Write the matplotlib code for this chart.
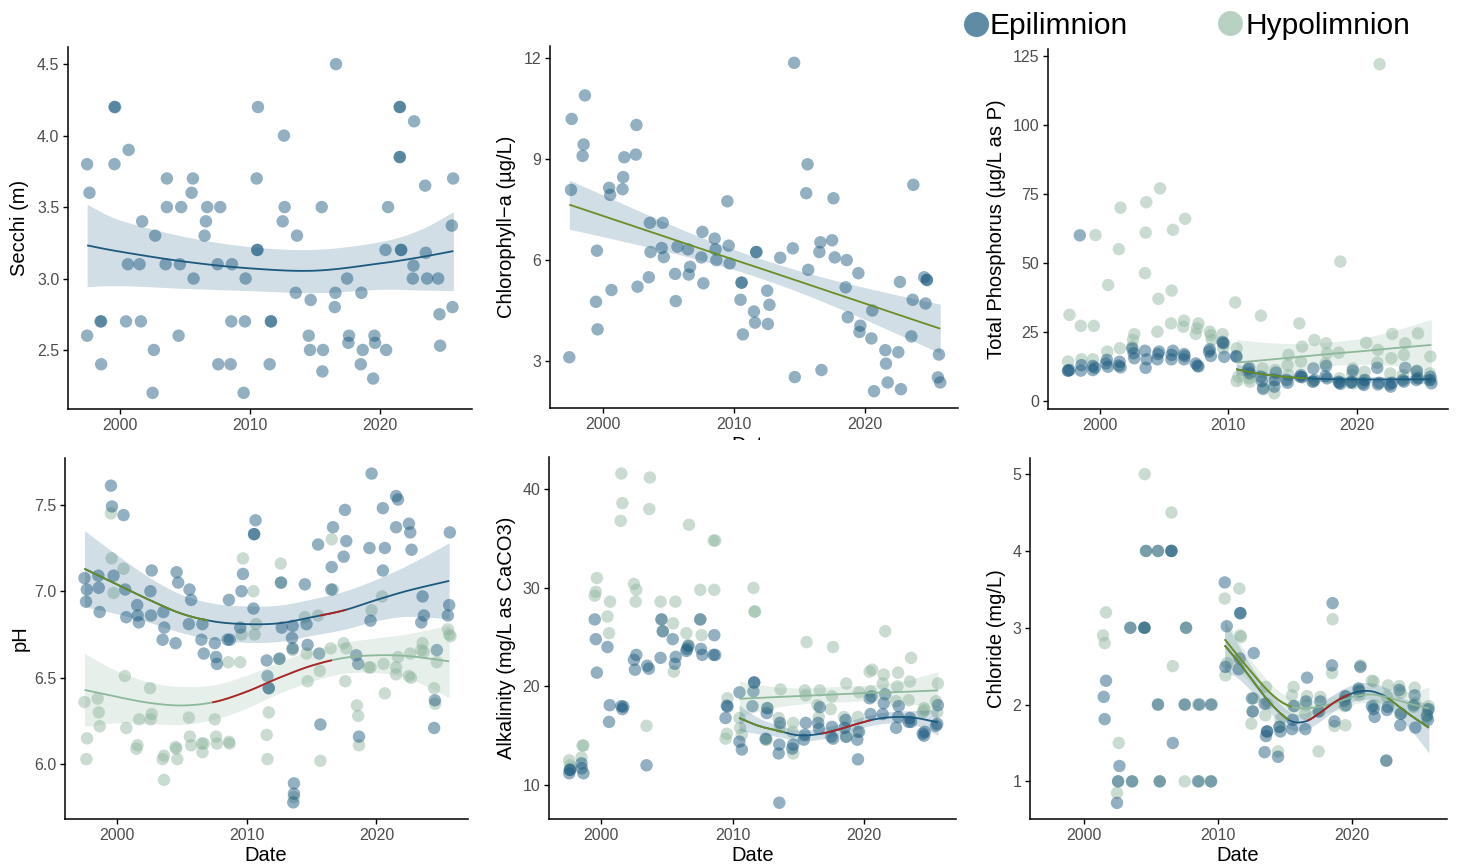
import numpy as np
import matplotlib
matplotlib.use("Agg")
import matplotlib.pyplot as plt
from matplotlib.transforms import Bbox

plt.rcParams['font.family'] = ['Liberation Sans', 'DejaVu Sans']

# ---------------- data (year, value) ----------------
secchi_epi = [(1997.47,3.80),(1997.65,3.60),(1997.47,2.60),(1998.5,2.70),(1998.55,2.70),(1998.55,2.40),
    (1999.57,4.20),(1999.62,4.20),(1999.57,3.80),(2000.66,3.90),(2000.6,3.10),(2000.46,2.70),(2001.7,3.40),
    (2001.5,3.10),(2001.6,2.70),(2002.7,3.30),(2002.6,2.50),(2002.5,2.20),(2003.6,3.70),(2003.6,3.50),
    (2003.5,3.10),(2004.7,3.50),(2004.6,3.10),(2004.5,2.60),(2005.6,3.70),(2005.5,3.60),(2005.65,3.00),
    (2006.7,3.50),(2006.6,3.40),(2006.5,3.30),(2007.7,3.50),(2007.5,3.10),(2007.55,2.40),(2008.6,3.10),
    (2008.55,2.70),(2008.5,2.40),(2009.65,3.00),(2009.6,2.70),(2009.5,2.20),(2010.6,4.20),(2010.5,3.70),
    (2010.55,3.20),(2010.55,3.20),(2011.5,2.40),(2011.6,2.70),(2011.6,2.70),(2012.6,4.00),(2012.65,3.50),
    (2012.5,3.40),(2013.6,3.30),(2013.5,2.90),(2014.65,2.85),(2014.5,2.60),(2014.6,2.50),(2015.5,3.50),
    (2015.6,2.50),(2015.55,2.35),(2016.6,4.50),(2016.55,2.90),(2016.5,2.80),(2017.45,3.00),(2017.6,2.60),
    (2017.55,2.55),(2018.55,2.90),(2018.65,2.50),(2018.5,2.40),(2019.55,2.60),(2019.6,2.55),(2019.45,2.30),
    (2020.6,3.50),(2020.4,3.20),(2020.45,2.50),(2021.5,4.20),(2021.5,4.20),(2021.5,3.85),(2021.5,3.85),
    (2021.6,3.20),(2021.6,3.20),(2022.6,4.10),(2022.55,3.09),(2022.5,3.00),(2023.45,3.65),(2023.5,3.18),
    (2023.6,3.00),(2024.45,3.00),(2024.55,2.75),(2024.6,2.53),(2025.6,3.70),(2025.5,3.37),(2025.55,2.80)]

chl_epi = [(1997.47,3.11),(1997.6,8.09),(1997.65,10.2),(1998.66,10.9),(1998.56,9.44),(1998.48,9.10),
    (1999.57,6.28),(1999.5,4.76),(1999.62,3.94),(2000.5,8.15),(2000.58,7.94),(2000.68,5.11),(2001.65,9.06),
    (2001.57,8.47),(2001.52,8.11),(2002.58,10.02),(2002.53,9.14),(2002.66,5.21),(2003.6,7.11),(2003.65,6.24),
    (2003.52,5.49),(2004.58,7.11),(2004.5,6.36),(2004.66,6.09),(2005.7,6.40),(2005.52,5.59),(2005.57,4.78),
    (2006.5,6.32),(2006.66,5.80),(2006.56,5.57),(2007.6,6.84),(2007.52,6.08),(2007.67,5.31),(2008.53,6.64),
    (2008.6,6.32),(2008.66,6.0),(2009.5,7.75),(2009.6,6.43),(2009.67,5.90),(2010.58,5.33),(2010.58,5.33),
    (2010.5,4.82),(2010.68,3.79),(2011.7,6.24),(2011.7,6.24),(2011.52,4.47),(2011.6,4.14),(2012.53,5.09),
    (2012.7,4.67),(2012.58,4.10),(2013.52,6.07),(2014.58,11.87),(2014.48,6.35),(2014.63,2.52),(2015.6,8.85),
    (2015.5,7.99),(2015.65,5.71),(2016.58,6.53),(2016.5,6.24),(2016.66,2.73),(2017.57,7.84),(2017.47,6.59),
    (2017.67,6.08),(2018.58,6.0),(2018.5,5.19),(2018.66,4.30),(2019.47,5.61),(2019.62,4.05),(2019.55,3.86),
    (2020.53,4.50),(2020.46,3.67),(2020.66,2.10),(2021.52,3.32),(2021.57,2.92),(2021.7,2.36),(2022.63,5.35),
    (2022.51,3.26),(2022.71,2.16),(2023.65,8.24),(2023.6,4.82),(2023.5,3.73),(2024.48,5.49),(2024.68,5.41),
    (2024.68,5.41),(2024.58,4.71),(2025.6,3.19),(2025.52,2.51),(2025.7,2.36)]

tp_epi = [(1997.67,11.2),(1997.56,11.0),(1997.56,11.0),(1998.47,60.0),(1998.6,13.0),(1998.55,11.0),
    (1999.48,12.7),(1999.64,12.0),(1999.48,11.2),(2000.57,14.9),(2000.65,12.4),(2000.5,13.6),(2001.56,14.2),
    (2001.63,12.2),(2001.5,12.8),(2002.54,19.0),(2002.65,17.3),(2002.7,15.5),(2003.53,18.2),(2003.66,15.1),
    (2003.58,12.0),(2004.62,17.9),(2004.54,17.0),(2004.49,15.1),(2005.7,18.2),(2005.6,16.7),(2005.58,15.1),
    (2006.56,17.0),(2006.6,16.3),(2006.56,15.1),(2007.47,13.6),(2007.6,12.8),(2007.68,12.5),(2008.56,18.7),
    (2008.64,16.3),(2008.5,17.9),(2009.55,21.4),(2009.68,16.0),(2009.6,20.9),(2010.6,16.3),(2010.64,16.0),
    (2011.62,12.0),(2011.54,11.5),(2011.67,10.0),(2012.53,8.8),(2012.6,7.2),(2012.7,4.6),(2013.7,10.3),
    (2013.57,5.2),(2013.62,7.6),(2014.6,6.6),(2014.53,7.6),(2015.64,9.4),(2015.59,8.8),(2015.72,8.6),
    (2016.6,11.8),(2016.68,7.6),(2016.55,7.0),(2017.59,12.7),(2017.54,9.0),(2017.66,8.2),(2018.62,6.6),
    (2018.7,6.2),(2018.57,7.0),(2019.58,7.0),(2019.66,11.0),(2019.53,6.6),(2020.52,5.8),(2020.6,7.6),
    (2020.44,6.4),(2021.56,12.0),(2021.61,6.0),(2021.69,6.6),(2022.6,5.2),(2022.7,6.6),(2022.52,6.0),
    (2023.55,7.6),(2023.73,12.0),(2023.63,7.0),(2024.64,10.9),(2024.72,8.2),(2024.6,7.6),(2025.68,8.8),
    (2025.76,6.4),(2025.63,7.6)]

tp_hypo = [(1997.67,31.2),(1997.56,14.3),(1998.55,27.2),(1998.6,15.1),(1999.69,60.1),(1999.56,27.2),
    (1999.48,15.1),(2000.67,42.0),(2000.6,17.9),(2001.5,55.0),(2001.63,70.0),(2001.58,19.1),(2002.7,24.2),
    (2002.6,22.1),(2002.54,19.7),(2003.63,72.0),(2003.58,61.0),(2003.53,46.3),(2004.7,77.0),(2004.57,37.0),
    (2004.49,25.1),(2005.7,62.0),(2005.6,40.0),(2005.55,28.1),(2006.64,66.0),(2006.56,29.1),(2006.5,26.9),
    (2007.68,28.1),(2007.57,26.3),(2007.47,24.3),(2008.56,25.1),(2008.64,23.9),(2008.72,22.1),(2009.55,24.2),
    (2009.68,20.9),(2009.6,19.1),(2010.53,35.7),(2010.64,19.1),(2010.64,7.2),(2010.77,8.8),(2011.54,10.3),
    (2011.62,8.2),(2011.67,7.0),(2012.53,30.9),(2012.66,11.8),(2012.7,4.2),(2013.57,2.8),(2013.64,11.2),
    (2013.51,7.2),(2015.51,28.1),(2014.66,16.7),(2014.6,13.0),(2014.68,9.4),(2015.72,19.7),(2015.64,14.3),
    (2016.68,22.1),(2016.6,7.0),(2017.59,20.9),(2017.66,17.3),(2017.54,13.6),(2018.7,50.5),(2018.57,17.5),
    (2018.62,8.2),(2019.66,11.8),(2019.61,9.4),(2019.71,6.4),(2020.7,21.1),(2020.57,10.6),(2020.49,7.6),
    (2021.74,122.0),(2021.61,18.5),(2021.56,13.9),(2022.72,24.3),(2022.65,15.5),(2022.57,10.0),
    (2023.73,20.9),(2023.63,16.7),(2023.55,9.4),(2024.72,24.5),(2024.6,10.6),(2024.64,9.0),(2025.68,16.1),
    (2025.63,10.0),(2025.76,7.6)]

ph_epi = [(1997.5,7.076),(1997.68,7.01),(1997.62,6.94),(1998.57,7.09),(1998.6,7.02),(1998.67,6.88),
    (1999.54,7.61),(1999.62,7.49),(1999.74,7.09),(2000.51,7.44),(2000.64,7.01),(2000.72,6.85),(2001.56,6.92),
    (2001.6,6.86),(2001.69,6.82),(2002.68,7.12),(2002.58,7.0),(2002.63,6.86),(2003.58,6.88),(2003.65,6.79),
    (2003.52,6.72),(2004.6,7.11),(2004.72,7.05),(2004.52,6.70),(2005.59,7.01),(2005.72,6.95),(2005.54,6.81),
    (2006.59,6.81),(2006.51,6.72),(2006.69,6.64),(2007.54,6.70),(2007.64,6.62),(2007.71,6.58),(2008.63,6.95),
    (2008.53,6.72),(2008.7,6.72),(2009.71,7.10),(2009.6,7.0),(2009.5,6.79),(2010.68,7.41),(2010.57,7.33),
    (2010.57,7.33),(2010.52,6.90),(2011.54,6.60),(2011.6,6.51),(2011.7,6.44),(2011.7,6.44),(2012.64,7.05),
    (2012.7,6.79),(2012.52,6.61),(2013.54,6.80),(2013.49,6.73),(2013.54,6.67),(2013.64,5.89),(2013.64,5.83),
    (2013.59,5.78),(2014.48,7.04),(2014.61,6.81),(2014.69,6.69),(2015.5,7.27),(2015.58,6.64),(2015.68,6.23),
    (2016.65,7.37),(2016.55,7.14),(2016.52,7.01),(2017.57,7.47),(2017.67,7.29),(2017.47,7.20),(2018.44,6.63),
    (2018.59,6.58),(2018.65,6.16),(2019.62,7.68),(2019.46,7.25),(2019.54,6.83),(2020.49,7.48),(2020.64,7.25),
    (2020.49,7.12),(2021.51,7.55),(2021.66,7.53),(2021.51,7.37),(2022.5,7.39),(2022.6,7.34),(2022.7,7.24),
    (2023.55,6.97),(2023.65,6.86),(2023.45,6.82),(2024.65,6.66),(2024.5,6.37),(2024.44,6.21),(2025.65,7.34),
    (2025.6,6.92),(2025.5,6.86)]

ph_hypo = [(1997.5,6.36),(1997.7,6.15),(1997.65,6.03),(1998.52,6.38),(1998.6,6.30),(1998.67,6.22),
    (1999.54,7.45),(1999.59,7.19),(1999.74,6.99),(2000.51,7.13),(2000.61,6.51),(2000.72,6.21),(2001.71,6.26),
    (2001.58,6.11),(2001.5,6.09),(2002.55,6.44),(2002.68,6.29),(2002.6,6.26),(2003.63,6.05),(2003.52,6.03),
    (2003.63,5.91),(2004.57,6.09),(2004.65,6.03),(2004.52,6.10),(2005.54,6.27),(2005.62,6.16),(2005.72,6.11),
    (2006.54,6.12),(2006.59,6.07),(2006.69,6.12),(2007.54,6.26),(2007.64,6.16),(2007.71,6.12),(2008.58,6.59),
    (2008.63,6.13),(2008.68,6.12),(2009.71,7.19),(2009.6,6.75),(2009.5,6.59),(2010.52,7.0),(2010.72,6.81),
    (2010.61,6.75),(2012.62,7.16),(2011.7,6.30),(2011.54,6.17),(2011.6,6.03),(2012.64,7.05),(2012.52,6.61),
    (2013.54,6.66),(2013.64,5.81),(2014.48,6.85),(2014.61,6.64),(2014.69,6.48),(2015.5,6.86),(2015.63,6.54),
    (2015.68,6.02),(2016.55,7.30),(2016.65,7.01),(2016.47,6.67),(2017.47,6.70),(2017.67,6.67),(2017.6,6.48),
    (2018.49,6.34),(2018.59,6.28),(2018.65,6.11),(2019.62,6.89),(2019.41,6.56),(2019.54,6.56),(2020.43,6.97),
    (2020.54,6.58),(2020.64,6.41),(2021.51,6.56),(2021.66,6.62),(2021.51,6.52),(2022.6,6.64),(2022.5,6.51),
    (2022.66,6.50),(2023.55,6.70),(2023.45,6.66),(2023.63,6.65),(2024.44,6.44),(2024.52,6.35),(2024.65,6.59),
    (2025.5,6.78),(2025.6,6.75),(2025.7,6.74)]

alk_epi = [(1997.54,11.19),(1997.6,11.53),(1997.6,11.53),(1998.48,12.2),(1998.63,11.19),(1998.5,11.7),
    (1999.49,26.8),(1999.57,24.8),(1999.65,21.4),(2000.46,24.0),(2000.63,18.1),(2000.58,16.4),(2001.52,18.0),
    (2001.6,17.7),(2001.67,17.95),(2002.48,22.7),(2002.66,23.2),(2002.56,21.7),(2003.49,22.1),(2003.62,21.8),
    (2003.44,12.0),(2004.51,22.9),(2004.58,26.8),(2004.68,25.6),(2005.44,24.8),(2005.67,23.0),(2005.6,22.3),
    (2006.53,23.8),(2006.63,24.1),(2006.48,23.6),(2007.54,26.8),(2007.59,23.8),(2007.7,23.2),(2008.61,25.2),
    (2008.56,23.2),(2008.68,23.2),(2009.57,18.05),(2009.62,17.95),(2009.47,16.8),(2010.53,19.4),(2010.53,14.4),
    (2010.71,13.6),(2011.65,20.4),(2011.65,20.4),(2011.6,19.5),(2011.52,18.0),(2012.66,17.8),(2012.61,17.3),
    (2012.53,14.7),(2013.57,14.1),(2013.52,13.2),(2013.57,8.2),(2013.62,16.3),(2014.63,14.1),(2014.56,13.7),
    (2015.59,16.3),(2015.52,15.1),(2015.44,14.6),(2016.53,16.3),(2016.66,17.9),(2016.6,15.7),(2017.59,15.9),
    (2017.54,14.9),(2017.67,14.7),(2018.63,16.6),(2018.56,15.8),(2018.68,14.9),(2019.57,12.6),(2019.52,14.6),
    (2019.65,15.4),(2020.46,18.8),(2020.53,17.2),(2020.61,19.0),(2021.65,19.2),(2021.54,18.3),(2021.46,17.2),
    (2022.48,15.8),(2022.63,16.9),(2022.68,18.0),(2023.54,16.8),(2023.62,16.4),(2023.44,16.4),(2024.51,15.2),
    (2024.61,15.0),(2024.66,15.4),(2025.52,16.0),(2025.62,16.2),(2025.67,18.1)]

alk_hypo = [(1997.54,12.5),(1997.6,12.0),(1997.67,11.7),(1998.56,14.0),(1998.48,12.8),(1998.63,14.0),
    (1999.65,31.0),(1999.57,29.6),(1999.49,29.2),(2000.46,27.1),(2000.66,28.6),(2000.58,25.4),(2001.52,41.6),
    (2001.6,38.6),(2001.47,36.8),(2002.48,30.4),(2002.66,29.8),(2002.61,28.6),(2003.7,41.2),(2003.65,38.0),
    (2003.44,16.0),(2004.51,28.6),(2004.58,26.8),(2004.68,25.6),(2005.64,28.6),(2005.47,26.4),(2005.52,21.5),
    (2006.48,25.4),(2006.63,24.2),(2006.68,36.4),(2007.54,29.8),(2007.64,25.2),(2007.54,26.8),(2008.56,34.8),
    (2008.68,34.8),(2008.61,29.8),(2009.62,18.8),(2009.57,15.2),(2009.47,14.7),(2010.53,16.8),(2010.58,15.8),
    (2010.71,15.1),(2011.6,30.0),(2011.67,27.6),(2011.72,27.6),(2012.66,17.8),(2012.53,14.6),(2012.61,14.6),
    (2013.67,19.7),(2013.52,16.8),(2013.62,15.9),(2014.63,16.3),(2014.58,15.4),(2014.63,13.2),(2015.65,24.5),
    (2015.52,19.6),(2015.59,19.1),(2016.66,19.6),(2016.48,18.1),(2016.58,16.9),(2017.67,24.0),(2017.59,19.0),
    (2017.49,17.7),(2018.68,20.3),(2018.51,16.9),(2018.63,14.9),(2019.65,19.4),(2019.57,16.9),(2019.52,15.4),
    (2020.46,21.5),(2020.66,21.7),(2020.53,19.5),(2021.65,25.6),(2021.54,21.2),(2021.46,20.3),(2022.63,21.4),
    (2022.58,20.0),(2022.48,18.5),(2023.62,22.9),(2023.54,20.5),(2023.44,18.6),(2024.61,17.8),(2024.51,17.4),
    (2024.66,17.6),(2025.67,20.3),(2025.52,18.5),(2025.62,17.4)]

cl_epi = [(2001.49,2.10),(2001.66,2.31),(2001.56,1.81),(2002.66,1.20),(2002.56,1.0),(2002.48,0.72),
    (2003.47,3.0),(2003.6,1.0),(2004.52,3.0),(2004.52,3.0),(2004.64,4.0),(2005.53,4.0),(2005.53,2.0),
    (2005.66,1.0),(2006.53,4.0),(2006.53,4.0),(2006.63,1.5),(2007.62,3.0),(2007.52,2.0),(2008.51,1.0),
    (2008.61,2.0),(2009.48,2.0),(2009.48,1.0),(2010.5,3.59),(2010.65,3.02),(2010.55,2.49),(2011.66,3.19),
    (2011.66,3.19),(2011.61,2.60),(2011.54,2.46),(2012.66,2.67),(2012.53,2.08),(2012.58,1.91),(2013.65,1.65),
    (2013.65,1.65),(2013.57,1.59),(2013.47,1.38),(2013.47,2.01),(2014.57,1.71),(2014.65,1.65),(2014.47,1.32),
    (2015.63,1.98),(2015.56,1.80),(2015.51,1.68),(2016.63,2.35),(2016.55,2.04),(2016.5,1.68),(2017.62,2.04),
    (2017.49,1.91),(2018.53,3.32),(2018.49,2.51),(2018.67,1.78),(2019.48,2.11),(2019.53,1.99),(2019.43,2.05),
    (2020.6,2.49),(2020.47,2.21),(2020.52,2.17),(2021.46,1.98),(2021.59,1.94),(2021.66,1.84),(2022.53,1.27),
    (2022.65,1.97),(2022.58,1.93),(2023.5,2.19),(2023.62,1.88),(2023.57,1.73),(2024.64,2.12),(2024.57,1.99),
    (2024.69,1.70),(2025.68,1.94),(2025.56,1.86),(2025.63,1.80)]

cl_hypo = [(2001.44,2.90),(2001.66,3.20),(2001.56,2.80),(2002.61,1.50),(2002.48,0.85),(2002.56,1.0),
    (2003.47,3.0),(2003.6,1.0),(2004.54,5.0),(2004.64,4.0),(2004.52,3.0),(2005.53,4.0),(2005.53,2.0),
    (2005.66,1.0),(2006.53,4.50),(2006.53,4.0),(2006.63,2.50),(2007.52,1.0),(2007.62,3.0),(2007.52,2.0),
    (2008.51,2.0),(2008.61,1.0),(2009.55,2.0),(2009.48,1.0),(2010.5,3.38),(2010.55,2.38),(2010.67,2.54),
    (2011.59,3.51),(2011.66,2.90),(2011.71,2.88),(2012.48,1.75),(2012.66,2.08),(2012.58,1.91),(2013.57,2.23),
    (2013.52,1.86),(2013.65,2.01),(2014.47,1.39),(2014.65,1.81),(2014.57,1.71),(2015.63,2.23),(2015.51,2.12),
    (2015.71,1.98),(2016.63,2.11),(2016.55,1.99),(2016.5,1.88),(2017.49,1.39),(2017.62,2.10),(2017.54,1.91),
    (2018.53,3.11),(2018.49,2.41),(2018.67,1.72),(2019.48,1.73),(2019.53,2.10),(2019.43,1.98),(2020.6,2.51),
    (2020.47,2.19),(2020.52,2.12),(2021.46,2.31),(2021.59,2.30),(2021.66,1.99),(2022.53,1.27),(2022.65,2.25),
    (2022.58,2.10),(2023.5,2.24),(2023.62,2.15),(2023.57,1.88),(2024.64,2.22),(2024.57,1.97),(2024.69,2.02),
    (2025.68,1.98),(2025.56,1.84),(2025.63,1.93)]

# ---------------- fitted trends (year, fit, lower, upper) ----------------
secchi_fit = [(1997.47,3.232,2.943,3.519),(2000,3.188,2.950,3.409),(2005,3.118,2.931,3.293),
    (2010,3.071,2.915,3.223),(2015,3.055,2.901,3.204),(2020,3.106,2.924,3.258),(2023,3.148,2.920,3.340),
    (2025.62,3.192,2.915,3.467)]
chl_fit = [(1997.47,7.65,6.92,8.38),(2001,7.19,6.61,7.77),(2004.5,6.73,6.29,7.17),(2008,6.27,5.94,6.60),
    (2011.5,5.82,5.53,6.11),(2015,5.36,5.04,5.68),(2018.5,4.90,4.48,5.32),(2022,4.44,3.88,5.00),
    (2025.7,3.96,3.23,4.69)]
tp_epi_fit = [(2010.6,11.5,9.5,13.5),(2012,10.2,8.8,11.6),(2013.5,9.2,8.1,10.3),(2015,8.5,7.5,9.5),
    (2016.5,8.1,7.1,9.1),(2018,7.9,6.9,8.9),(2020,7.8,6.8,8.8),(2022,7.8,6.7,8.9),(2024,7.8,6.5,9.1),
    (2025.76,7.9,6.2,9.6)]
tp_hypo_fit = [(2010.64,13.9,5.5,22.3),(2013,14.9,8.6,21.2),(2015.5,16.0,11.2,20.8),(2018,17.1,12.8,21.4),
    (2020.5,18.1,13.3,22.9),(2023,19.2,12.7,25.7),(2025.76,20.3,11.0,29.6)]
ph_epi_fit = [(1997.5,7.13,6.91,7.35),(2000,7.04,6.87,7.21),(2002.5,6.95,6.82,7.08),(2005,6.87,6.76,6.98),
    (2007.5,6.825,6.72,6.93),(2010,6.81,6.705,6.915),(2012.5,6.815,6.71,6.92),(2015,6.85,6.745,6.955),
    (2017.5,6.89,6.78,7.00),(2020,6.95,6.83,7.07),(2022.5,7.005,6.855,7.155),(2025.6,7.06,6.84,7.28)]
ph_hypo_fit = [(1997.5,6.43,6.22,6.64),(2000,6.39,6.24,6.54),(2002.5,6.355,6.235,6.475),(2005,6.34,6.23,6.45),
    (2007.5,6.36,6.26,6.46),(2010,6.42,6.325,6.515),(2012.5,6.50,6.41,6.59),(2015,6.57,6.48,6.66),
    (2017.5,6.615,6.525,6.705),(2020,6.63,6.53,6.73),(2022.5,6.625,6.495,6.755),(2025.6,6.595,6.385,6.805)]
alk_epi_fit = [(2010.5,16.8,15.5,18.1),(2012,16.0,15.2,16.8),(2013.5,15.5,14.9,16.1),(2015,15.05,14.5,15.6),
    (2016.5,15.15,14.6,15.7),(2018,15.6,15.05,16.15),(2019.5,16.2,15.65,16.75),(2021,16.7,16.15,17.25),
    (2022.5,16.9,16.3,17.5),(2024,16.8,16.05,17.55),(2025.67,16.35,15.05,17.65)]
alk_hypo_fit = [(2010.53,18.75,16.95,20.55),(2013,18.9,17.8,20.0),(2015.5,19.05,18.25,19.85),
    (2018,19.2,18.4,20.0),(2020.5,19.35,18.55,20.15),(2023,19.45,18.35,20.55),(2025.67,19.6,17.7,21.5)]
cl_epi_fit = [(2010.5,2.77,2.44,3.10),(2011.5,2.56,2.34,2.78),(2012.5,2.33,2.17,2.49),(2013.5,2.10,1.97,2.23),
    (2014.5,1.91,1.79,2.03),(2015.5,1.78,1.67,1.89),(2016.5,1.78,1.67,1.89),(2017.5,1.88,1.77,1.99),
    (2018.5,2.01,1.90,2.12),(2019.5,2.11,2.00,2.22),(2020.5,2.17,2.06,2.28),(2021.5,2.17,2.06,2.28),
    (2022.5,2.10,1.98,2.22),(2023.5,1.97,1.83,2.11),(2024.5,1.84,1.64,2.04),(2025.7,1.70,1.37,2.03)]
cl_hypo_fit = [(2010.5,2.85,2.55,3.15),(2011.5,2.63,2.43,2.83),(2012.5,2.42,2.27,2.57),(2013.5,2.22,2.09,2.35),
    (2014.5,2.06,1.94,2.18),(2015.5,1.97,1.86,2.08),(2016.5,1.95,1.85,2.05),(2017.5,1.97,1.87,2.07),
    (2018.5,2.01,1.91,2.11),(2019.5,2.07,1.97,2.17),(2020.5,2.12,2.02,2.22),(2021.5,2.13,2.02,2.24),
    (2022.5,2.10,1.98,2.22),(2023.5,2.05,1.91,2.19),(2024.5,2.00,1.83,2.17),(2025.7,1.95,1.67,2.23)]

# significant-change segments (start year, end year, kind)
ph_epi_seg = [(1997.5, 2007.1, 'down'), (2015.6, 2017.7, 'up')]
ph_hypo_seg = [(2007.2, 2016.7, 'up')]
tp_epi_seg = [(2010.6, 2016.2, 'down')]
alk_epi_seg = [(2010.5, 2014.0, 'down'), (2016.7, 2020.7, 'up')]
cl_epi_seg = [(2010.5, 2015.3, 'down'), (2016.6, 2019.8, 'up'), (2022.6, 2025.7, 'down')]
cl_hypo_seg = [(2010.5, 2015.5, 'down')]

year_ticks = [2000, 2010, 2020]
legend_labels = ['Epilimnion', 'Hypolimnion']

# ---------------- styling ----------------
EPI = '#1B5A7E'
HYPO = '#8AB39A'
HYPO_LINE = '#8DB89B'
SEG = {'down': '#6B8E23', 'up': '#B22222'}
XLIM = (1996.0, 2027.05)
W, H = 1457, 867

fig = plt.figure(figsize=(W / 100, H / 100), dpi=100)


def add_axes(l, r, t, b):
    return fig.add_axes([l / W, 1 - b / H, (r - l) / W, (b - t) / H])


def style(ax, ylim, yticks, ylabels, title, label_x):
    ax.set_xlim(*XLIM)
    ax.set_ylim(*ylim)
    ax.set_xticks(year_ticks)
    ax.set_xticklabels([str(y) for y in year_ticks])
    ax.set_yticks(yticks)
    ax.set_yticklabels(ylabels)
    for s in ['top', 'right']:
        ax.spines[s].set_visible(False)
    for s in ['left', 'bottom']:
        ax.spines[s].set_linewidth(1.1)
    ax.tick_params(direction='out', length=3.8, width=1.0, colors='black',
                   labelcolor='#4D4D4D', labelsize=11.5, pad=2.5)
    pos = ax.get_position()
    fig.text(label_x / W, pos.y0 + pos.height / 2, title, rotation=90,
             ha='center', va='center', fontsize=14.5, color='black')


def pts(ax, data, color, alpha):
    a = np.array(data)
    ax.scatter(a[:, 0], a[:, 1], s=80, color=color, alpha=alpha,
               edgecolors='none', zorder=2)


def catmull(xs, ys, n=16):
    px = np.concatenate([[xs[0]], xs, [xs[-1]]])
    py = np.concatenate([[ys[0]], ys, [ys[-1]]])
    ox, oy = [], []
    t = np.linspace(0, 1, n, endpoint=False)
    for i in range(1, len(px) - 2):
        for p, o in ((px, ox), (py, oy)):
            p0, p1, p2, p3 = p[i - 1], p[i], p[i + 1], p[i + 2]
            o.extend(0.5 * ((2 * p1) + (-p0 + p2) * t + (2 * p0 - 5 * p1 + 4 * p2 - p3) * t ** 2
                            + (-p0 + 3 * p1 - 3 * p2 + p3) * t ** 3))
    ox.append(xs[-1]); oy.append(ys[-1])
    return np.array(ox), np.array(oy)


def trend(ax, fit, line_color, band_color, segs=()):
    a = np.array(fit)
    x, f, lo, hi = a[:, 0], a[:, 1], a[:, 2], a[:, 3]
    xd, fd = catmull(x, f)
    _, lod = catmull(x, lo)
    _, hid = catmull(x, hi)
    ax.fill_between(xd, lod, hid, color=band_color, alpha=0.2, lw=0, zorder=3)
    ax.plot(xd, fd, color=line_color, lw=1.3, zorder=4, solid_capstyle='butt')
    for x0, x1, kind in segs:
        m = (xd >= x0) & (xd <= x1)
        ax.plot(xd[m], fd[m], color=SEG[kind], lw=1.3, zorder=5, solid_capstyle='butt')


# Panel 1: Secchi
ax1 = add_axes(68, 472, 47, 409)
pts(ax1, secchi_epi, EPI, 0.48)
trend(ax1, secchi_fit, EPI, EPI)
style(ax1, (2.087, 4.62), [2.5, 3.0, 3.5, 4.0, 4.5], ['2.5', '3.0', '3.5', '4.0', '4.5'],
      'Secchi (m)', 20)

# Panel 2: Chlorophyll-a
ax2 = add_axes(550, 958, 46, 408)
pts(ax2, chl_epi, EPI, 0.48)
trend(ax2, chl_fit, '#6B8E23', EPI)
style(ax2, (1.60, 12.37), [3, 6, 9, 12], ['3', '6', '9', '12'], 'Chlorophyll\u2212a (\u00b5g/L)', 507)

# Panel 3: Total Phosphorus
ax3 = add_axes(1048, 1448, 49, 409)
pts(ax3, tp_hypo, HYPO, 0.45)
pts(ax3, tp_epi, EPI, 0.48)
trend(ax3, tp_hypo_fit, HYPO_LINE, HYPO)
trend(ax3, tp_epi_fit, EPI, EPI, tp_epi_seg)
style(ax3, (-2.9, 127.5), [0, 25, 50, 75, 100, 125], ['0', '25', '50', '75', '100', '125'],
      'Total Phosphorus (\u00b5g/L as P)', 997)

# Panel 4: pH
ax4 = add_axes(65, 468, 458, 819)
pts(ax4, ph_hypo, HYPO, 0.45)
pts(ax4, ph_epi, EPI, 0.48)
trend(ax4, ph_hypo_fit, HYPO_LINE, HYPO, ph_hypo_seg)
trend(ax4, ph_epi_fit, EPI, EPI, ph_epi_seg)
style(ax4, (5.684, 7.77), [6.0, 6.5, 7.0, 7.5], ['6.0', '6.5', '7.0', '7.5'], 'pH', 20)

# Panel 5: Alkalinity
ax5 = add_axes(549, 956, 457, 819)
pts(ax5, alk_hypo, HYPO, 0.45)
pts(ax5, alk_epi, EPI, 0.48)
trend(ax5, alk_hypo_fit, HYPO_LINE, HYPO)
trend(ax5, alk_epi_fit, EPI, EPI, alk_epi_seg)
style(ax5, (6.55, 43.28), [10, 20, 30, 40], ['10', '20', '30', '40'],
      'Alkalinity (mg/L as CaCO3)', 506)

# Panel 6: Chloride
ax6 = add_axes(1030, 1447, 458, 819)
pts(ax6, cl_hypo, HYPO, 0.45)
pts(ax6, cl_epi, EPI, 0.48)
trend(ax6, cl_epi_fit, EPI, EPI, cl_epi_seg)
trend(ax6, cl_hypo_fit, HYPO_LINE, HYPO, cl_hypo_seg)
style(ax6, (0.51, 5.21), [1, 2, 3, 4, 5], ['1', '2', '3', '4', '5'], 'Chloride (mg/L)', 997)

# x titles
for cx in (266, 753, 1238):
    fig.text(cx / W, 1 - 861 / H, 'Date', ha='center', va='baseline', fontsize=14.5)
# clipped x title under the top-middle panel (only its top edge shows)
t = fig.text(753 / W, 1 - 451 / H, 'Date', ha='center', va='baseline', fontsize=14.5)
t.set_clip_box(Bbox([[0, H - 439.5], [W, H]]))
t.set_clip_on(True)

# legend
lg = fig.add_axes([0, 0, 1, 1], zorder=10)
lg.set_xlim(0, W); lg.set_ylim(H, 0); lg.axis('off')
lg.plot([976], [24], 'o', ms=18, color=EPI, alpha=0.7, mec='none')
lg.plot([1230], [23], 'o', ms=18, color=HYPO, alpha=0.6, mec='none')
lg.text(990, 34, legend_labels[0], fontsize=21.5, va='baseline', ha='left')
lg.text(1246, 34, legend_labels[1], fontsize=21.5, va='baseline', ha='left')

fig.savefig('out.png', dpi=100)
